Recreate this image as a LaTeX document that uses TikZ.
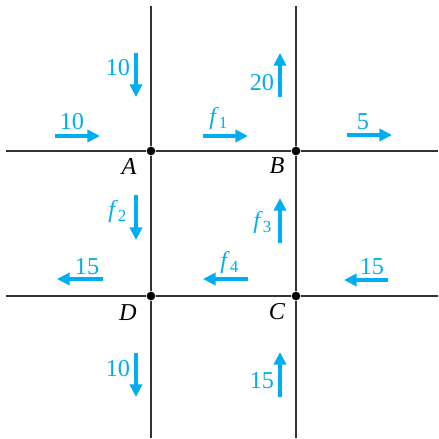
\documentclass[tikz,border=0pt]{standalone}
\usepackage{fontspec}
\setmainfont{Liberation Serif}
\usetikzlibrary{arrows.meta}
\definecolor{flowblue}{RGB}{0,174,239}

\begin{document}
\begin{tikzpicture}[
        x=0.0145cm, y=-0.0145cm,
        street/.style={line width=0.65pt, black!80},
        junction/.style={circle, fill=black, inner sep=0pt, minimum size=3.6pt},
        flow/.style={flowblue, line width=1.3pt, -{Triangle[length=5.2pt, width=5pt]}},
        amount/.style={text=flowblue, inner sep=0pt},
        corner/.style={inner sep=0pt, font=\itshape}
    ]
    \useasboundingbox (0,0) rectangle (439,439);

    % Junctions
    \node[junction] (A) at (151,151) {};
    \node[junction] (B) at (296,151) {};
    \node[junction] (C) at (296,296) {};
    \node[junction] (D) at (151,296) {};

    % Street ends
    \coordinate (Atop) at (151,6);
    \coordinate (Btop) at (296,6);
    \coordinate (Dbot) at (151,438);
    \coordinate (Cbot) at (296,438);
    \coordinate (Aleft) at (6,151);
    \coordinate (Bright) at (438,151);
    \coordinate (Dleft) at (6,296);
    \coordinate (Cright) at (438,296);

    \draw[street] (Atop) -- (A) -- (D) -- (Dbot);
    \draw[street] (Btop) -- (B) -- (C) -- (Cbot);
    \draw[street] (Aleft) -- (A) -- (B) -- (Bright);
    \draw[street] (Dleft) -- (D) -- (C) -- (Cright);

    \node[corner] (labA) at (129,166) {A};
    \node[corner] (labB) at (277,166) {B};
    \node[corner] (labC) at (277,312) {C};
    \node[corner] (labD) at (128,313) {D};

    % Flows around A
    \coordinate (inAw) at (55,136);  \coordinate (inAe) at (100,136);
    \draw[flow] (inAw) -- (inAe);
    \node[amount] (qAw) at (72,122) {10};
    \coordinate (inAn) at (136,53);  \coordinate (inAs) at (136,97);
    \draw[flow] (inAn) -- (inAs);
    \node[amount] (qAn) at (118,68) {10};

    % Flows around B
    \coordinate (fonew) at (203,136); \coordinate (fonee) at (248,136);
    \draw[flow] (fonew) -- (fonee);
    \node[amount] (qf1) at (219,119) {\textit{f}\textsubscript{1}};
    \coordinate (outBs) at (280,97); \coordinate (outBn) at (280,53);
    \draw[flow] (outBs) -- (outBn);
    \node[amount] (qBn) at (262,83) {20};
    \coordinate (outBw) at (347,135); \coordinate (outBe) at (392,135);
    \draw[flow] (outBw) -- (outBe);
    \node[amount] (qBe) at (363,122) {5};

    % Flows between the blocks
    \coordinate (ftwon) at (136,195); \coordinate (ftwos) at (136,240);
    \draw[flow] (ftwon) -- (ftwos);
    \node[amount] (qf2) at (118,212) {\textit{f}\textsubscript{2}};
    \coordinate (fthrees) at (280,243); \coordinate (fthreen) at (280,198);
    \draw[flow] (fthrees) -- (fthreen);
    \node[amount] (qf3) at (263,223) {\textit{f}\textsubscript{3}};
    \coordinate (ffoure) at (248,279); \coordinate (ffourw) at (203,279);
    \draw[flow] (ffoure) -- (ffourw);
    \node[amount] (qf4) at (230,263) {\textit{f}\textsubscript{4}};

    % Flows around D and C
    \coordinate (outDe) at (103,279); \coordinate (outDw) at (57,279);
    \draw[flow] (outDe) -- (outDw);
    \node[amount] (qDw) at (87,267) {15};
    \coordinate (inCe) at (388,280); \coordinate (inCw) at (344,280);
    \draw[flow] (inCe) -- (inCw);
    \node[amount] (qCe) at (372,267) {15};
    \coordinate (outDn) at (136,353); \coordinate (outDs) at (136,397);
    \draw[flow] (outDn) -- (outDs);
    \node[amount] (qDs) at (118,369) {10};
    \coordinate (inCs) at (280,397); \coordinate (inCn) at (280,352);
    \draw[flow] (inCs) -- (inCn);
    \node[amount] (qCs) at (262,381) {15};

\end{tikzpicture}
\end{document}
